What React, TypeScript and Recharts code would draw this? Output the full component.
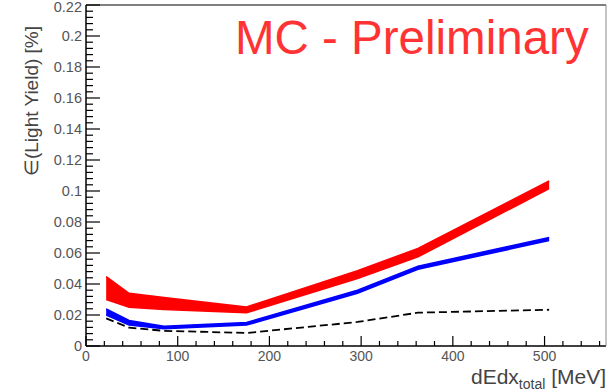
import { ComposedChart, Area, Line, XAxis, YAxis } from "recharts"

// dEdx points shared by all three curves
const DEDX = [22, 47, 85, 175, 296, 362, 505]
const RED_LOW = [0.030, 0.025, 0.0235, 0.0214, 0.0435, 0.0575, 0.1015]
const RED_HIGH = [0.0448, 0.034, 0.0313, 0.0252, 0.0485, 0.0630, 0.1065]
const BLUE_LOW = [0.020, 0.0135, 0.0112, 0.0135, 0.034, 0.0495, 0.068]
const BLUE_HIGH = [0.024, 0.0165, 0.0128, 0.0152, 0.036, 0.0515, 0.070]
const BLACK = [0.0178, 0.0118, 0.0098, 0.0084, 0.0155, 0.0215, 0.0234]

const X_TICKS = [0, 20, 40, 60, 80, 100, 120, 140, 160, 180, 200, 220, 240, 260, 280, 300, 320, 340, 360, 380, 400, 420, 440, 460, 480, 500, 520, 540, 560]
const X_LABELS = ["0", "100", "200", "300", "400", "500"]
const Y_LABELS = ["0", "0.02", "0.04", "0.06", "0.08", "0.1", "0.12", "0.14", "0.16", "0.18", "0.2", "0.22"]
const Y_TICKS: number[] = []
for (let i = 0; i <= 55; i++) Y_TICKS.push(+(i * 0.004).toFixed(3))

const data = DEDX.map((x, i) => ({
    x,
    red: [RED_LOW[i], RED_HIGH[i]],
    blue: [BLUE_LOW[i], BLUE_HIGH[i]],
    black: BLACK[i],
}))

const FONT = "'Liberation Sans', Arial, sans-serif"

const XTick = (props: any) => {
    const { x, y, payload } = props
    const v = payload.value
    const label = X_LABELS.find((l) => +l === v)
    return (
        <g>
            <line x1={x} x2={x} y1={y} y2={y - (label ? 10 : 5)} stroke="#000" strokeWidth={1.2} />
            {label && (
                <text x={x} y={y + 15} textAnchor="middle" fontSize={14} fill="#555" fontFamily={FONT}>{label}</text>
            )}
        </g>
    )
}

const YTick = (props: any) => {
    const { x, y, payload } = props
    const v = payload.value
    const label = Y_LABELS.find((l) => Math.abs(+l - v) < 1e-6)
    return (
        <g>
            <line x1={x} x2={x + (label ? 14 : 7)} y1={y} y2={y} stroke="#000" strokeWidth={1.2} />
            {label && (
                <text x={x - 4} y={Math.max(y + 5, 12)} textAnchor="end" fontSize={14.5} fill="#555" fontFamily={FONT}>{label}</text>
            )}
        </g>
    )
}

export default function App() {
    return (
        <div style={{ position: "absolute", left: 0, top: 0, width: 609, height: 391, background: "#fff" }}>
            <ComposedChart width={609} height={391} data={data} margin={{ top: 4, right: 0, left: 0, bottom: 0 }}>
                <XAxis dataKey="x" type="number" domain={[0, 567]} ticks={X_TICKS} interval={0} height={45}
                    axisLine={{ stroke: "#000", strokeWidth: 1.5 }} tickLine={false} tickSize={0} tickMargin={0} tick={<XTick />} />
                <XAxis xAxisId="top" orientation="top" dataKey="x" type="number" domain={[0, 567]} height={1}
                    axisLine={{ stroke: "#555", strokeWidth: 1.5 }} tick={false} tickLine={false} />
                <YAxis type="number" domain={[0, 0.22]} ticks={Y_TICKS} interval={0} width={86}
                    axisLine={{ stroke: "#000", strokeWidth: 1.5 }} tickLine={false} tickSize={0} tickMargin={0} tick={<YTick />} />
                <YAxis yAxisId="right" orientation="right" type="number" domain={[0, 0.22]} width={3}
                    axisLine={{ stroke: "#888", strokeWidth: 1 }} tick={false} tickLine={false} />
                <Area type="linear" dataKey="red" stroke="#ff0000" strokeWidth={1.5} fill="#ff0000" fillOpacity={1} isAnimationActive={false} />
                <Area type="linear" dataKey="blue" stroke="#0000ff" strokeWidth={1.5} fill="#0000ff" fillOpacity={1} isAnimationActive={false} />
                <Line type="linear" dataKey="black" stroke="#000" strokeWidth={1.8} strokeDasharray="8 4" dot={false} isAnimationActive={false} />
            </ComposedChart>
            <div style={{ position: "absolute", left: 235, top: 10, fontFamily: FONT, fontSize: 47.5, color: "#ff3333", whiteSpace: "nowrap", lineHeight: "56px" }}>
                MC - Preliminary
            </div>
            <svg width={609} height={391} style={{ position: "absolute", left: 0, top: 0, pointerEvents: "none" }}>
                <text transform="translate(38,101) rotate(-90)" textAnchor="middle" fontSize={19} fill="#444" fontFamily={FONT}>
                    ∈(Light Yield) [%]
                </text>
                <text x={606} y={384} textAnchor="end" fontSize={21} fill="#444" fontFamily={FONT}>
                    dEdx<tspan fontSize={14} dy={5}>total</tspan><tspan dy={-5}> [MeV]</tspan>
                </text>
            </svg>
        </div>
    )
}
